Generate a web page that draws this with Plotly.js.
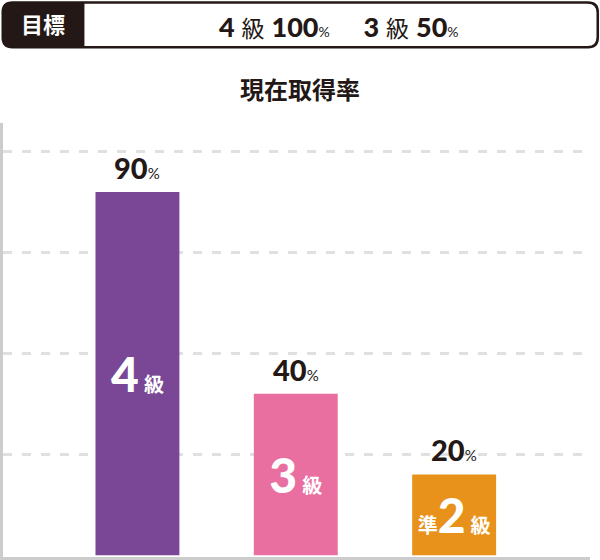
<!DOCTYPE html>
<html>
<head>
<meta charset="utf-8">
<script src="https://cdn.plot.ly/plotly-3.0.1.min.js"></script>
<style>
  html,body{margin:0;padding:0;background:#fff;}
  #chart{width:600px;height:560px;}
</style>
</head>
<body>
<div id="chart"></div>
<script>
// data
const grades      = ["4級", "3級", "準2級"];
const gradePrefix = ["", "", "準"];
const gradeNum    = ["4", "3", "2"];
const rates       = [90, 40, 20];
const barColors   = ["#7a4796", "#e96fa1", "#e8921b"];
const gridValues  = [25, 50, 75, 100];
const goalNum     = ["4", "3"];
const goalRates   = [100, 50];

const INK = "#231815";
const FONT = "Lato, 'Noto Sans CJK JP', sans-serif";

// plot box in px (used to place the header pieces)
const L = 2.5, R = 590, T = 123, B = 557.5;
const px = x => (x - L) / (R - L);
const py = y => (B - y) / (B - T);

// rounded rect path in paper coords; r = [tl, tr, br, bl]
function rrect(x0, y0, x1, y1, r){
  const [tl, tr, br, bl] = r;
  const P = (x, y) => px(x) + "," + py(y);
  return "M" + P(x0 + tl, y0) + " L" + P(x1 - tr, y0) + " Q" + P(x1, y0) + " " + P(x1, y0 + tr) +
         " L" + P(x1, y1 - br) + " Q" + P(x1, y1) + " " + P(x1 - br, y1) +
         " L" + P(x0 + bl, y1) + " Q" + P(x0, y1) + " " + P(x0, y1 - bl) +
         " L" + P(x0, y0 + tl) + " Q" + P(x0, y0) + " " + P(x0 + tl, y0) + " Z";
}

const heavy = (s, size) => `<span style="font-weight:900${size ? ";font-size:" + size + "px" : ""}">${s}</span>`;
const pct = s => `<span style="font-size:${s}px">%</span>`;
const insideText = grades.map((g, i) =>
  (gradePrefix[i] ? "<b>" + gradePrefix[i] + "</b>" : "") +
  heavy(gradeNum[i], 48) + " <b>級</b>");

const goalText = goalNum.map((n, i) =>
  heavy(n) + " <span style=\"font-size:23px\">級</span> " + heavy(goalRates[i]) + pct(14)).join("\u3000\u2005");

const bars = {
  type: "bar", x: grades, y: rates, width: 0.53,
  marker: {color: barColors, line: {width: 0}},
  text: insideText, textposition: "inside", insidetextanchor: "middle",
  textangle: 0, constraintext: "none",
  insidetextfont: {family: FONT, size: 20, color: "#fff"},
  hoverinfo: "skip"
};

const labels = grades.map((g, i) => ({
  x: g, y: rates[i], xref: "x", yref: "y", yanchor: "bottom", yshift: 5,
  showarrow: false, text: heavy(rates[i]) + pct(15),
  font: {family: FONT, size: 29, color: INK}
}));

const layout = {
  width: 600, height: 560,
  margin: {l: L, r: 600 - R, t: T, b: 560 - B, pad: 0},
  paper_bgcolor: "#fff", plot_bgcolor: "#fff",
  showlegend: false,
  title: {text: "<b>現在取得率</b>", font: {family: FONT, size: 24, color: INK},
          xref: "container", x: 0.5, y: 1 - 91 / 560, yanchor: "middle"},
  xaxis: {type: "category", range: [-0.849, 2.858], showgrid: false, zeroline: false,
          showticklabels: false, ticks: "", showline: true, linecolor: "#cccccc", linewidth: 5},
  yaxis: {range: [-0.45, 107.1], tickmode: "array", tickvals: gridValues,
          showgrid: true, gridcolor: "#e0e0e0", gridwidth: 2.5, griddash: "9px,10px",
          zeroline: false, showticklabels: false, ticks: "",
          showline: true, linecolor: "#cccccc", linewidth: 5},
  shapes: [
    {type: "path", xref: "paper", yref: "paper", path: rrect(1, 1, 599, 48.5, [11, 11, 11, 11]),
     fillcolor: INK, line: {width: 0}, layer: "above"},
    {type: "path", xref: "paper", yref: "paper", path: rrect(84, 3.5, 596.5, 46, [0, 9, 9, 0]),
     fillcolor: "#fff", line: {width: 0}, layer: "above"}
  ],
  annotations: [
    {xref: "paper", yref: "paper", x: px(43), y: py(24.5), xanchor: "center", yanchor: "middle",
     showarrow: false, text: "<b>目標</b>", font: {family: FONT, size: 22, color: "#fff"}},
    {xref: "paper", yref: "paper", x: px(339), y: py(26), xanchor: "center", yanchor: "middle",
     showarrow: false, text: goalText, font: {family: FONT, size: 27, color: INK}}
  ].concat(labels)
};

Plotly.newPlot("chart", [bars], layout, {displayModeBar: false, staticPlot: true});
</script>
</body>
</html>
